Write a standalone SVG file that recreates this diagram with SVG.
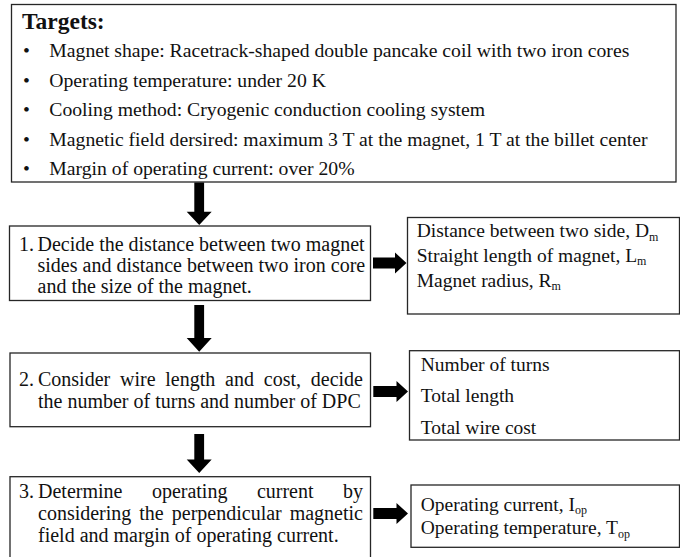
<svg xmlns="http://www.w3.org/2000/svg" width="680" height="557" viewBox="0 0 680 557">
<style>
  .box { fill: #ffffff; stroke: #262626; stroke-width: 1.3; }
  .t { font-family: "Liberation Serif", "Times New Roman", serif; font-size: 20px; fill: #111111; }
  .b { font-family: "Liberation Serif", "Times New Roman", serif; font-size: 19.7px; fill: #111111; }
  .r { font-family: "Liberation Serif", "Times New Roman", serif; font-size: 19.5px; fill: #111111; }
  .h { font-family: "Liberation Serif", "Times New Roman", serif; font-size: 23.5px; font-weight: bold; fill: #111111; }
  .sub { font-size: 12px; }
  .end { text-anchor: end; }
  .arrow { fill: #000000; stroke: none; }
</style>
<rect x="0" y="0" width="680" height="557" fill="#ffffff"/>

<g id="node-targets">
  <rect class="box" x="11.5" y="4.5" width="664.5" height="177.5"/>
  <text class="h" x="22" y="28.5">Targets:</text>
  <text class="b" x="23" y="57">•</text>
  <text class="b" x="49.3" y="57">Magnet shape: Racetrack-shaped double pancake coil with two iron cores</text>
  <text class="b" x="23" y="86.5">•</text>
  <text class="b" x="49.3" y="86.5">Operating temperature: under 20 K</text>
  <text class="b" x="23" y="116">•</text>
  <text class="b" x="49.3" y="116">Cooling method: Cryogenic conduction cooling system</text>
  <text class="b" x="23" y="145.5">•</text>
  <text class="b" x="49.3" y="145.5">Magnetic field dersired: maximum 3 T at the magnet, 1 T at the billet center</text>
  <text class="b" x="23" y="175">•</text>
  <text class="b" x="49.3" y="175">Margin of operating current: over 20%</text>
</g>

<g id="node-step1">
  <rect class="box" x="9.5" y="226" width="361" height="74.5"/>
  <text class="t" x="19" y="251">1.</text>
  <text class="t" x="37.5" y="251">Decide the distance between two magnet</text>
  <text class="t" x="37.5" y="272">sides and distance between two iron core</text>
  <text class="t" x="37.5" y="293">and the size of the magnet.</text>
</g>

<g id="node-out1">
  <rect class="box" x="407.5" y="217.5" width="272" height="96.5"/>
  <text class="r" x="416.7" y="237">Distance between two side, D<tspan class="sub" dy="3.5">m</tspan></text>
  <text class="r" x="416.7" y="261.8">Straight length of magnet, L<tspan class="sub" dy="3.5">m</tspan></text>
  <text class="r" x="416.7" y="286.5">Magnet radius, R<tspan class="sub" dy="3.5">m</tspan></text>
</g>

<g id="node-step2">
  <rect class="box" x="10" y="353" width="360.5" height="73.7"/>
  <text class="t" x="19" y="386">2.</text>
  <text class="t" x="38" y="386">Consider</text>
  <text class="t" x="120" y="386">wire</text>
  <text class="t" x="165.3" y="386">length</text>
  <text class="t" x="225.1" y="386">and</text>
  <text class="t" x="263.8" y="386">cost,</text>
  <text class="t end" x="363" y="386">decide</text>
  <text class="t" x="38" y="407.5">the number of turns and number of DPC</text>
</g>

<g id="node-out2">
  <rect class="box" x="409.5" y="350.7" width="270" height="89.3"/>
  <text class="r" x="420.7" y="370.7">Number of turns</text>
  <text class="r" x="420.7" y="402.4">Total length</text>
  <text class="r" x="420.7" y="434">Total wire cost</text>
</g>

<g id="node-step3">
  <rect class="box" x="10" y="476.7" width="360.5" height="90"/>
  <text class="t" x="19" y="498">3.</text>
  <text class="t" x="38" y="498">Determine</text>
  <text class="t" x="151.9" y="498">operating</text>
  <text class="t" x="256.9" y="498">current</text>
  <text class="t end" x="363" y="498">by</text>
  <text class="t" x="38" y="520">considering</text>
  <text class="t" x="139.3" y="520">the</text>
  <text class="t" x="171.8" y="520">perpendicular</text>
  <text class="t end" x="363" y="520">magnetic</text>
  <text class="t" x="38" y="542">field and margin of operating current.</text>
</g>

<g id="node-out3">
  <rect class="box" x="411" y="485" width="268.5" height="62.3"/>
  <text class="r" x="420.7" y="510.5">Operating current, I<tspan class="sub" dy="3.5">op</tspan></text>
  <text class="r" x="420.7" y="534">Operating temperature, T<tspan class="sub" dy="3.5">op</tspan></text>
</g>

<g id="connectors">
  <path class="arrow" d="M194.3,182.5 H204.1 V211.7 H211.7 L199.2,225 L186.7,211.7 H194.3 Z"/>
  <path class="arrow" d="M194.3,305 H204.1 V338 H211.7 L199.2,351.7 L186.7,338 H194.3 Z"/>
  <path class="arrow" d="M194.3,434 H204.1 V459.5 H211.7 L199.2,473 L186.7,459.5 H194.3 Z"/>
  <path class="arrow" d="M373,257.5 H395 V252.5 L406.5,263 L395,273.5 V268.5 H373 Z"/>
  <path class="arrow" d="M373.3,386 H396.5 V381 L408,391.5 L396.5,402 V397 H373.3 Z"/>
  <path class="arrow" d="M373.3,508 H396.5 V503 L408,513.5 L396.5,524 V519 H373.3 Z"/>
</g>
</svg>
